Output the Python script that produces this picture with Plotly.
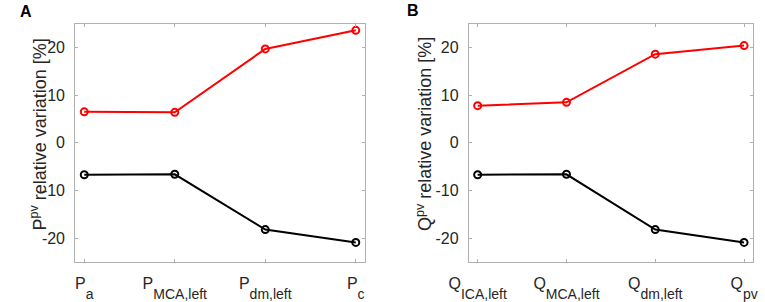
import plotly.graph_objects as go

# ---- data ----
main_a = ["P", "P", "P", "P"]
sub_a = ["a", "MCA,left", "dm,left", "c"]
main_b = ["Q", "Q", "Q", "Q"]
sub_b = ["ICA,left", "MCA,left", "dm,left", "pv"]
pos = [1, 2, 3, 4]
a_red = [6.5, 6.4, 19.7, 23.6]
a_black = [-6.7, -6.6, -18.2, -20.9]
b_red = [7.8, 8.5, 18.6, 20.4]
b_black = [-6.7, -6.6, -18.2, -20.9]
yticks = [-20, -10, 0, 10, 20]
ytick_text = ["-20", "-10", "0", "10", "20"]

W, H = 765, 302
FAM = "Arial, Liberation Sans, sans-serif"
fig = go.Figure()


def lab(m, s):
    return m + '<span style="font-size:14px;baseline-shift:-10px">' + s + "</span>"


def add(x, y, color, xa, ya):
    fig.add_trace(go.Scatter(
        x=x, y=y, mode="lines+markers", xaxis=xa, yaxis=ya,
        line=dict(color=color, width=2),
        marker=dict(symbol="circle-open", size=7, color=color, line=dict(width=2, color=color)),
        showlegend=False, hoverinfo="skip"))


add(pos, a_red, "#ff0000", "x", "y")
add(pos, a_black, "#000000", "x", "y")
add(pos, b_red, "#ff0000", "x2", "y2")
add(pos, b_black, "#000000", "x2", "y2")

font = dict(family=FAM, size=16, color="#262626")
tfont = dict(family=FAM, size=18, color="#262626")
ydom = [1 - 265.5 / H, 1 - 24 / H]
common_x = dict(range=[0.9, 4.1], tickmode="array", tickvals=pos, ticks="inside", ticklen=3,
                tickcolor="#b0b0b0", showline=True, linecolor="#b0b0b0", linewidth=1,
                mirror="ticks", showgrid=False, zeroline=False, tickfont=font,
                ticklabelstandoff=7)
common_y = dict(range=[-25, 25], tickmode="array", tickvals=yticks, ticktext=ytick_text,
                ticks="inside", ticklen=3,
                tickcolor="#b0b0b0", showline=True, linecolor="#b0b0b0", linewidth=1,
                mirror="ticks", showgrid=False, zeroline=False, tickfont=font,
                ticklabelstandoff=6)

fig.update_layout(
    width=W, height=H, margin=dict(l=0, r=0, t=0, b=0),
    paper_bgcolor="white", plot_bgcolor="white",
    xaxis=dict(domain=[57 / W, 356 / W], ticktext=[lab(m, s) for m, s in zip(main_a, sub_a)],
               anchor="y", **common_x),
    yaxis=dict(domain=ydom, anchor="x", **common_y),
    xaxis2=dict(domain=[463.3 / W, 756.7 / W], ticktext=[lab(m, s) for m, s in zip(main_b, sub_b)],
                anchor="y2", **common_x),
    yaxis2=dict(domain=ydom, anchor="x2", **common_y),
    annotations=[
        dict(text="P<sup>pv</sup> relative variation [%]", x=5 / W, y=1 - 136 / H,
             xref="paper", yref="paper", textangle=-90, showarrow=False, font=tfont,
             xanchor="left", yanchor="middle"),
        dict(text="Q<sup>pv</sup> relative variation [%]", x=403 / W, y=1 - 136 / H,
             xref="paper", yref="paper", textangle=-90, showarrow=False, font=tfont,
             xanchor="left", yanchor="middle"),
        dict(text="<b>A</b>", x=-2 / W, y=1 - 1 / H, xref="paper", yref="paper", showarrow=False,
             xanchor="left", yanchor="top", font=dict(family=FAM, size=16, color="black")),
        dict(text="<b>B</b>", x=397 / W, y=1 - 0 / H, xref="paper", yref="paper", showarrow=False,
             xanchor="left", yanchor="top", font=dict(family=FAM, size=16, color="black")),
    ],
)

fig.write_html("out.html", config={"displayModeBar": False},
               post_script="document.body.style.margin='0';document.body.style.overflow='hidden';")
